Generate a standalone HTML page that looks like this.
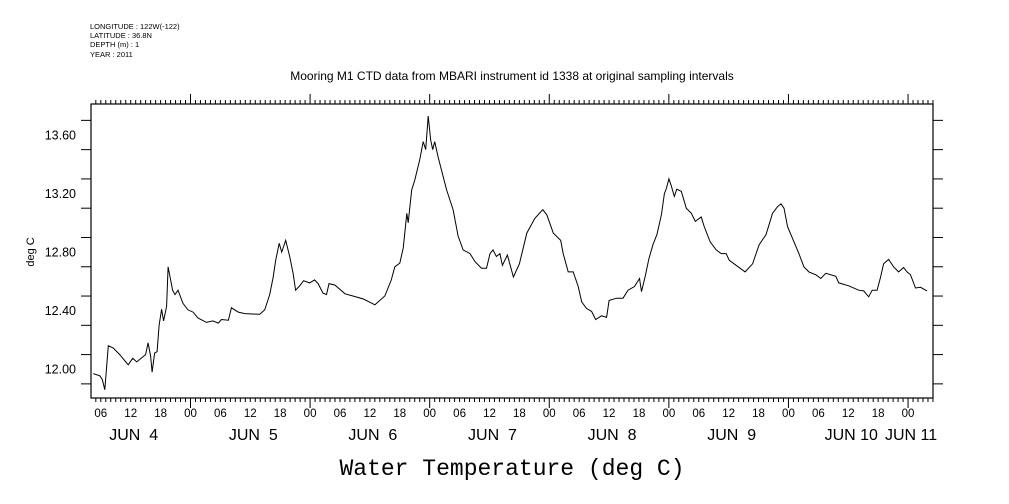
<!DOCTYPE html>
<html><head><meta charset="utf-8">
<style>
html,body{margin:0;padding:0;background:#fff;}
svg{display:block;}
text{font-family:"Liberation Sans",sans-serif;fill:#000;}
</style></head>
<body>
<svg id="chart" width="1009" height="504" viewBox="0 0 1009 504" xmlns="http://www.w3.org/2000/svg">
<g font-size="7.5">
<text x="90" y="29">LONGITUDE : 122W(-122)</text>
<text x="90" y="38">LATITUDE : 36.8N</text>
<text x="90" y="47">DEPTH (m) : 1</text>
<text x="90" y="57">YEAR : 2011</text>
</g>
<text x="512" y="80" text-anchor="middle" font-size="12">Mooring M1 CTD data from MBARI instrument id 1338 at original sampling intervals</text>
<text transform="translate(34,252) rotate(-90)" text-anchor="middle" font-size="11">deg C</text>
<text x="512" y="475" text-anchor="middle" font-size="23" style="font-family:'Liberation Mono','DejaVu Sans Mono',monospace">Water Temperature (deg C)</text>
<g id="axes"></g>
<path id="line" fill="none" stroke="#000" stroke-width="1"/>
</svg>
<script>
const hours=[4.5,5.8,6.3,6.8,7.5,8.5,9.8,11.5,12.4,13.2,15.0,15.5,16.0,16.3,16.8,17.3,17.7,18.2,18.6,19.2,19.5,20.4,20.9,21.5,22.5,23.5,24.5,25.5,27.2,28.5,29.6,30.2,31.6,32.2,33.6,34.9,37.9,38.9,39.9,40.6,41.1,41.8,42.3,43.1,43.9,44.6,45.1,45.8,46.7,47.9,48.9,49.6,50.6,51.3,51.8,53.0,55.0,56.6,58.7,61.0,63.0,64.3,65.0,66.0,66.7,67.4,67.7,68.4,69.0,70.0,70.7,71.2,71.7,72.2,72.6,73.0,73.7,75.4,76.7,77.7,78.7,80.1,81.1,82.4,83.4,84.1,84.7,85.4,86.1,86.6,87.6,88.8,90.0,91.5,93.1,94.7,95.5,96.8,98.3,98.8,99.8,100.8,101.8,102.5,103.5,104.5,105.3,106.5,107.5,108.0,109.5,110.8,111.8,113.1,114.1,114.5,115.3,116.0,116.8,117.6,118.5,119.1,119.5,120.0,120.5,121.1,121.6,122.5,123.5,124.5,125.3,126.5,127.1,128.3,129.5,130.5,131.5,132.1,133.5,135.3,136.8,138.1,139.5,140.8,141.8,142.5,143.1,143.8,144.5,146.1,147.1,148.1,149.5,150.5,151.5,153.5,154.1,156.1,158.1,159.1,160.1,160.8,161.8,162.5,163.1,164.1,165.1,166.1,167.1,167.8,168.5,169.5,170.5,171.8];
const temps=[11.97,11.955,11.93,11.86,12.16,12.145,12.10,12.03,12.075,12.05,12.10,12.18,12.09,11.98,12.11,12.12,12.30,12.41,12.33,12.43,12.70,12.54,12.51,12.54,12.45,12.405,12.39,12.35,12.32,12.33,12.315,12.34,12.335,12.42,12.39,12.38,12.375,12.405,12.51,12.63,12.745,12.86,12.80,12.88,12.77,12.655,12.54,12.565,12.605,12.59,12.61,12.585,12.52,12.51,12.585,12.575,12.515,12.50,12.48,12.44,12.50,12.61,12.70,12.725,12.83,13.065,13.00,13.225,13.29,13.43,13.555,13.50,13.73,13.565,13.50,13.555,13.45,13.225,13.09,12.91,12.815,12.79,12.735,12.69,12.69,12.79,12.815,12.77,12.79,12.71,12.78,12.63,12.72,12.93,13.03,13.09,13.055,12.93,12.88,12.79,12.665,12.665,12.565,12.46,12.415,12.395,12.34,12.365,12.355,12.47,12.485,12.485,12.54,12.565,12.62,12.53,12.64,12.755,12.85,12.92,13.055,13.20,13.235,13.30,13.25,13.18,13.23,13.215,13.10,13.065,13.01,13.04,12.975,12.87,12.815,12.79,12.79,12.745,12.71,12.665,12.72,12.85,12.92,13.065,13.11,13.13,13.10,12.975,12.92,12.79,12.70,12.665,12.645,12.62,12.655,12.635,12.59,12.57,12.54,12.535,12.495,12.54,12.54,12.63,12.72,12.75,12.70,12.665,12.695,12.665,12.645,12.555,12.56,12.535];
const yTickLabels=["12.00","12.40","12.80","13.20","13.60"];
const dayLabels=["JUN  4","JUN  5","JUN  6","JUN  7","JUN  8","JUN  9","JUN 10","JUN 11"];
const hourLabels=["00","06","12","18"];

const L=91,R=933,T=104,B=398;
const x=h=>70.9+h*4.983;
const y=t=>135+(13.60-t)*146.4;
const NS="http://www.w3.org/2000/svg";
const axes=document.getElementById('axes');
function mk(tag,attrs,parent){const e=document.createElementNS(NS,tag);for(const k in attrs)e.setAttribute(k,attrs[k]);(parent||axes).appendChild(e);return e;}
let frame=mk('rect',{x:L,y:T,width:R-L,height:B-T,fill:'none',stroke:'#000','stroke-width':1.2});


for(let i=0;i<=9;i++){const t=11.9+i*0.2;const yy=y(t);if(yy<T||yy>B)continue;
 let a=mk('line',{x1:L,x2:L-10,y1:yy,y2:yy,stroke:'#000'});
 
 
 let b=mk('line',{x1:R,x2:R+10,y1:yy,y2:yy,stroke:'#000'});
 
 
}
yTickLabels.forEach(s=>{const tx=mk('text',{x:76,y:y(parseFloat(s))+4.5,'text-anchor':'end','font-size':12.5});tx.textContent=s;
 
 });
for(let h=5;h<=173;h++){const xx=x(h);if(xx<L||xx>R)continue;const mid=h%24===0;
 let a=mk('line',{x1:xx,x2:xx,y1:T,y2:T-(mid?10:4),stroke:'#000'});
 
 
 let b=mk('line',{x1:xx,x2:xx,y1:B,y2:B+(mid?10:4),stroke:'#000'});
 
 
 if(h%6===0){const tx=mk('text',{x:xx,y:417,'text-anchor':'middle','font-size':11.5});tx.textContent=hourLabels[(h%24)/6];
  
  }
}
dayLabels.forEach((s,i)=>{const cx=i<7?x(i*24+12):x(i*24);const tx=mk('text',{x:cx+3,y:440,'text-anchor':'middle','font-size':16});tx.setAttribute('style','white-space:pre');tx.textContent=s;
 
 });
document.getElementById('line').setAttribute('d',hours.map((h,i)=>(i?'L':'M')+x(h).toFixed(1)+','+y(temps[i]).toFixed(1)).join(''));
</script>
</body></html>
